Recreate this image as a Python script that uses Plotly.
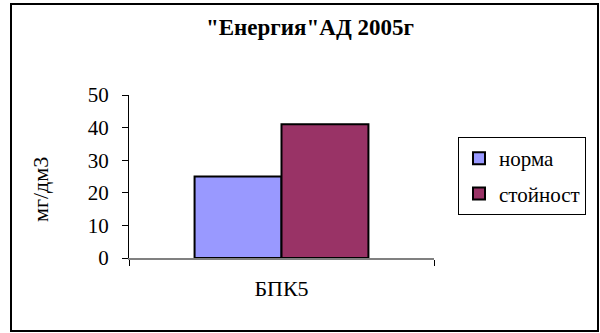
import plotly.graph_objects as go

categories = ["БПК5"]
series_names = ["норма", "стойност"]
norma_values = [25]
stoynost_values = [41]
colors = ["#9999FF", "#993366"]
y_ticks = [0, 10, 20, 30, 40, 50]

FONT = "Liberation Serif, Times New Roman, serif"

fig = go.Figure()
for name, vals, col, grp in zip(series_names, [norma_values, stoynost_values], colors, ["a", "b"]):
    fig.add_trace(go.Bar(
        x=categories, y=vals, name=name, legendgroup=grp,
        marker=dict(color=col, line=dict(color="#000000", width=2)),
    ))

L, R, T, B = 129, 166, 95, 75
W, H = 600, 333
pw, ph = W - L - R, H - T - B

def px_x(p):
    return (p - L) / pw

def px_y(p):
    return (H - B - p) / ph

fig.update_layout(
    width=W, height=H,
    margin=dict(l=L, r=R, t=T, b=B, pad=0),
    paper_bgcolor="white", plot_bgcolor="white",
    font=dict(family=FONT, size=16, color="#000000"),
    barmode="group", bargap=0.43, bargroupgap=0,
    showlegend=True,
    legend=dict(
        x=px_x(458), y=px_y(137), xanchor="left", yanchor="top",
        bordercolor="#000000", borderwidth=1, bgcolor="white",
        font=dict(family=FONT, size=21),
        tracegroupgap=5, itemwidth=30,
    ),
    xaxis=dict(
        type="category", range=[-0.5, 0.5],
        showline=True, linecolor="#808080", linewidth=2,
        ticks="outside", tickson="boundaries", ticklen=6, tickcolor="#000000", tickwidth=1,
        showgrid=False, ticklabelstandoff=10,
        tickfont=dict(family=FONT, size=22),
    ),
    yaxis=dict(
        range=[0, 50], tickvals=y_ticks,
        showline=True, linecolor="#000000", linewidth=1,
        ticks="outside", ticklen=6, tickcolor="#000000",
        showgrid=False, zeroline=False, ticklabelstandoff=9,
        tickfont=dict(family=FONT, size=21),
    ),
    shapes=[dict(
        type="rect", xref="paper", yref="paper",
        x0=px_x(11), x1=px_x(598), y0=px_y(331), y1=px_y(4),
        line=dict(color="#000000", width=2), fillcolor="rgba(0,0,0,0)", layer="below",
    )],
    annotations=[
        dict(text="<b>\"Енергия\"АД 2005г</b>", xref="paper", yref="paper",
             x=px_x(310), y=px_y(28), showarrow=False, xanchor="center", yanchor="middle",
             font=dict(family=FONT, size=23)),
        dict(text="мг/дм3", xref="paper", yref="paper",
             x=px_x(40), y=px_y(190), showarrow=False, textangle=-90,
             xanchor="center", yanchor="middle", font=dict(family=FONT, size=22)),
    ],
)

fig.write_html("out.html", config={"displayModeBar": False},
               post_script="document.body.style.margin='0';")
